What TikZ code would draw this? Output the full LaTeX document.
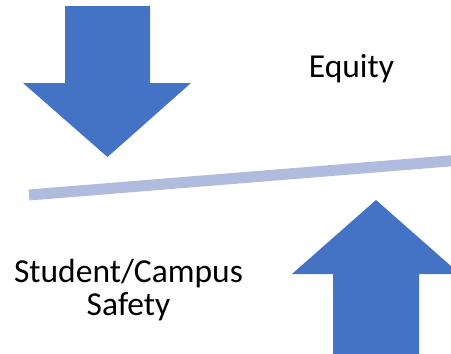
\documentclass[tikz,border=0pt]{standalone}
\usepackage{fontspec}
\setmainfont{Carlito}
\definecolor{arrowblue}{RGB}{68,114,196}
\definecolor{barblue}{RGB}{176,188,222}
\begin{document}
\begin{tikzpicture}[x=1pt,y=-1pt,
  bigarrow/.style={fill=arrowblue,draw=none},
  lever/.style={draw=barblue,line width=11pt},
  label/.style={font=\fontsize{33.5}{33}\selectfont,inner sep=0pt,align=center}]
\useasboundingbox (0,0) rectangle (451,354);
\clip (0,0) rectangle (451,354);
\fill[white] (0,0) rectangle (451,354);
% down arrow
\fill[bigarrow] (65,6) -- (150,6) -- (150,83) -- (191,83) -- (107.5,157) -- (23,83) -- (65,83) -- cycle;
% up arrow
\fill[bigarrow] (333,360) -- (333,274) -- (292,274) -- (376,200) -- (460,274) -- (419,274) -- (419,360) -- cycle;
% lever bar
\coordinate (barL) at (29,195);
\coordinate (barR) at (455,160.5);
\draw[lever] (barL) -- (barR);
\node[label,anchor=base] (equity) at (351.5,77) {Equity};
\node[label,anchor=base] (safety) at (128.5,315) {Student/Campus\\Safety};
\end{tikzpicture}
\end{document}
